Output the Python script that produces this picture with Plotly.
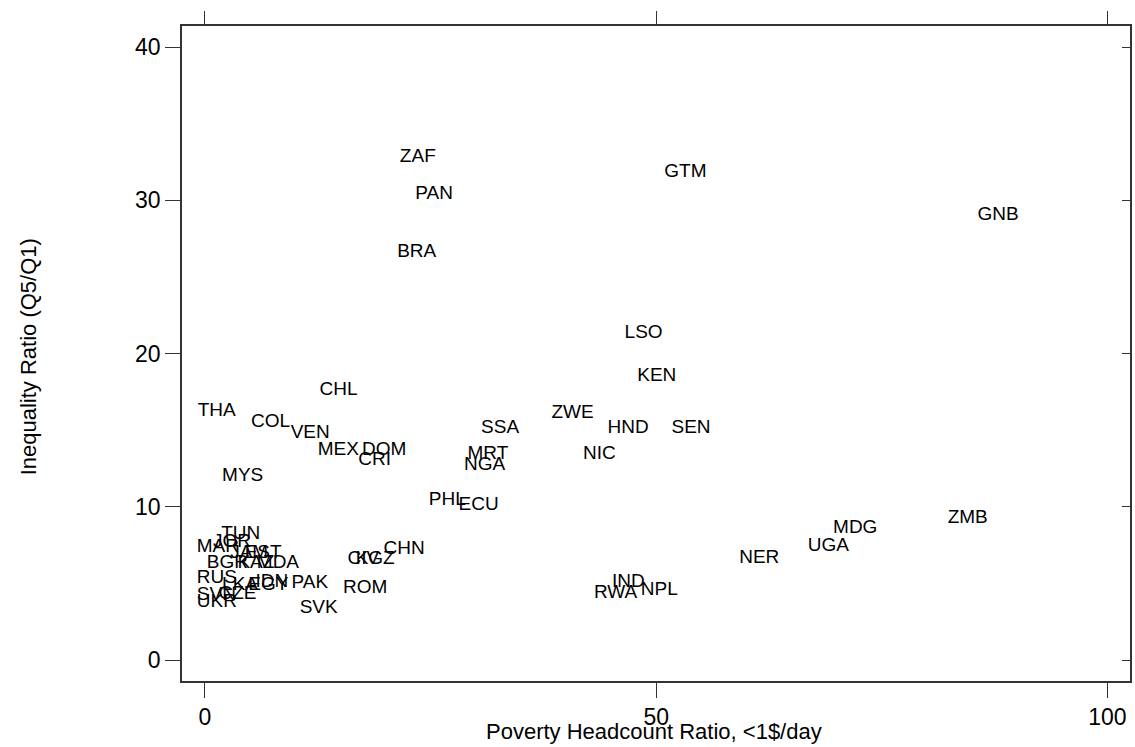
import plotly.graph_objects as go

countries = ["ZAF", "GTM", "PAN", "GNB", "BRA", "LSO", "KEN", "CHL", "THA", "ZWE",
             "COL", "SSA", "HND", "SEN", "VEN", "MEX", "DOM", "MRT", "NIC", "CRI",
             "NGA", "MYS", "PHL", "ECU", "ZMB", "MDG", "UGA", "NER",
             "TUN", "JOR", "MAR", "JAM", "EST", "BGR", "KAZ", "MDA", "RUS", "LKA",
             "EGY", "IDN", "PAK", "SVN", "CZE", "UKR", "SVK", "ROM", "CIV", "KGZ",
             "CHN", "IND", "RWA", "NPL"]
poverty = [21.6, 50.9, 23.3, 85.6, 21.3, 46.5, 47.9, 12.7, -0.8, 38.4,
           5.1, 30.6, 44.6, 51.7, 9.5, 12.5, 17.4, 29.1, 41.9, 17.0,
           28.7, 1.9, 24.8, 28.1, 82.3, 69.6, 66.8, 59.2,
           1.8, 0.9, -0.9, 2.8, 4.4, 0.2, 3.6, 5.75, -0.9, 1.9,
           4.8, 5.6, 9.6, -0.9, 1.5, -0.9, 10.5, 15.3, 15.8, 16.7,
           19.8, 45.1, 43.1, 48.3]
inequality = [32.8, 31.8, 30.4, 29.0, 26.6, 21.3, 18.5, 17.6, 16.2, 16.1,
              15.5, 15.1, 15.1, 15.1, 14.8, 13.7, 13.7, 13.4, 13.4, 13.05,
              12.7, 12.0, 10.4, 10.1, 9.27, 8.6, 7.44, 6.66,
              8.22, 7.7, 7.37, 6.98, 6.98, 6.33, 6.33, 6.33, 5.35, 4.9,
              4.85, 5.1, 5.0, 4.2, 4.3, 3.8, 3.4, 4.7, 6.6, 6.6,
              7.24, 5.1, 4.37, 4.57]

xticks = [0, 50, 100]
yticks = [0, 10, 20, 30, 40]

FONT = "Liberation Sans, Arial, sans-serif"
LINE = "#333333"

fig = go.Figure()
fig.add_trace(go.Scatter(
    x=poverty, y=inequality, text=countries, mode="text",
    textposition="middle right",
    textfont=dict(family=FONT, size=19, color="black"),
    hoverinfo="text", showlegend=False,
))
# invisible trace on secondary axes so that the top/right ticks are drawn
fig.add_trace(go.Scatter(
    x=[xticks[0]], y=[yticks[0]], xaxis="x2", yaxis="y2", mode="markers",
    marker=dict(opacity=0), hoverinfo="skip", showlegend=False,
))

xr = [-2.54, 102.5]
yr = [-1.37, 41.37]

fig.update_layout(
    width=1135, height=747,
    margin=dict(l=182, r=3, t=26, b=66),
    paper_bgcolor="white", plot_bgcolor="white",
    font=dict(family=FONT, color="black"),
    xaxis=dict(range=xr, tickvals=xticks, ticks="outside", ticklen=15,
               tickcolor=LINE, tickwidth=1, showline=True, linecolor=LINE,
               linewidth=1.5, mirror=True, showgrid=False, zeroline=False,
               tickfont=dict(size=23, family=FONT, color="black")),
    yaxis=dict(range=yr, tickvals=yticks, ticks="outside", ticklen=15,
               tickcolor=LINE, tickwidth=1, showline=True, linecolor=LINE,
               linewidth=1.5, mirror=True, showgrid=False, zeroline=False,
               tickfont=dict(size=23, family=FONT, color="black")),
    xaxis2=dict(range=xr, tickvals=xticks, ticks="outside", ticklen=14,
                tickcolor=LINE, showticklabels=False, overlaying="x",
                side="top", showgrid=False, zeroline=False, showline=False),
    yaxis2=dict(range=yr, tickvals=yticks, ticks="inside", ticklen=8,
                tickcolor=LINE, showticklabels=False, overlaying="y",
                side="right", showgrid=False, zeroline=False, showline=False),
    annotations=[
        dict(text="Poverty Headcount Ratio, <1$/day", xref="paper", yref="paper",
             x=(655 - 182) / 950, y=(681 - 746) / 655, showarrow=False,
             xanchor="center", yanchor="bottom",
             font=dict(size=22, family=FONT, color="black")),
        dict(text="Inequality Ratio (Q5/Q1)", xref="paper", yref="paper",
             x=(28 - 182) / 950, y=(681 - 357) / 655, showarrow=False,
             xanchor="center", yanchor="middle", textangle=-90,
             font=dict(size=22, family=FONT, color="black")),
    ],
)

fig.write_html("out.html")
